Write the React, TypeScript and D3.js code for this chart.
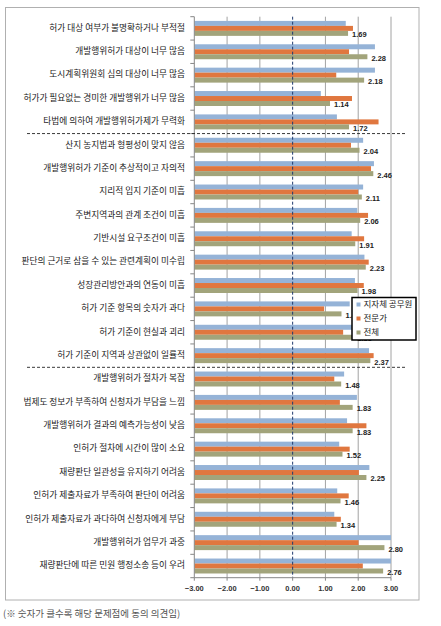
import React from "react";
import * as d3 from "d3";

const categories = [
  "허가 대상 여부가 불명확하거나 부적절",
  "개발행위허가 대상이 너무 많음",
  "도시계획위원회 심의 대상이 너무 많음",
  "허가가 필요없는 경미한 개발행위가 너무 많음",
  "타법에 의하여 개발행위허가제가 무력화",
  "산지 농지법과 형평성이 맞지 않음",
  "개발행위허가 기준이 추상적이고 자의적",
  "지리적 입지 기준이 미흡",
  "주변지역과의 관계 조건이 미흡",
  "기반시설 요구조건이 미흡",
  "판단의 근거로 삼을 수 있는 관련계획이 미수립",
  "성장관리방안과의 연동이 미흡",
  "허가 기준 항목의 숫자가 과다",
  "허가 기준이 현실과 괴리",
  "허가 기준이 지역과 상관없이 일률적",
  "개발행위허가 절차가 복잡",
  "법제도 정보가 부족하여 신청자가 부담을 느낌",
  "개발행위허가 결과의 예측가능성이 낮음",
  "인허가 절차에 시간이 많이 소요",
  "재량판단 일관성을 유지하기 어려움",
  "인허가 제출자료가 부족하여 판단이 어려움",
  "인허가 제출자료가 과다하여 신청자에게 부담",
  "개발행위허가 업무가 과중",
  "재량판단에 따른 민원 행정소송 등이 우려",
];

const officials = [1.62, 2.51, 2.51, 0.86, 1.35, 2.15, 2.48, 2.15, 1.97, 1.8, 2.19, 1.9, 1.74, 2.0, 2.33, 1.57, 1.96, 1.66, 1.42, 2.34, 1.36, 1.27, 3.1, 3.1];
const experts = [1.84, 1.72, 1.33, 1.81, 2.62, 1.78, 2.39, 2.0, 2.3, 2.18, 2.32, 2.17, 0.96, 1.54, 2.47, 1.27, 1.44, 2.25, 1.74, 2.02, 1.71, 1.47, 2.01, 2.14];
const total = [1.69, 2.28, 2.18, 1.14, 1.72, 2.04, 2.46, 2.11, 2.06, 1.91, 2.23, 1.98, 1.49, 1.85, 2.37, 1.48, 1.83, 1.83, 1.52, 2.25, 1.46, 1.34, 2.8, 2.76];

const seriesNames = ["지자체 공무원", "전문가", "전체"];
const seriesColors = ["#95B3D7", "#E0773F", "#A2A47B"];
const xTicks = [-3, -2, -1, 0, 1, 2, 3];
const separatorsAfter = [5, 15];
const note = "(※ 숫자가 클수록 해당 문제점에 동의 의견임)";

const KR = "'Noto Sans CJK KR', 'Noto Sans', sans-serif";
const NUM = "'Liberation Sans', Arial, sans-serif";

export default function App() {
  const left = 194.3, right = 391, top = 16.7, bottom = 577.7;
  const x = d3.scaleLinear().domain([-3, 3]).range([left, right]);
  const y = d3.scaleBand<string>().domain(categories).range([top, bottom]).paddingInner(0.36).paddingOuter(0.18);
  const sub = d3.scaleBand<number>().domain([0, 1, 2]).range([0, y.bandwidth()]);
  const step = y.step();
  const values = [officials, experts, total];

  return (
    <div style={{ position: "absolute", left: 0, top: 0 }}>
      <svg width={441} height={626} style={{ display: "block" }}>
        <defs>
          <clipPath id="plot">
            <rect x={left} y={top} width={right - left} height={bottom - top} />
          </clipPath>
        </defs>
        <rect x={0} y={0} width={441} height={626} fill="#fff" />
        <rect x={5.5} y={7.5} width={413.5} height={592.5} fill="none" stroke="#b0b0b0" strokeWidth={1} />

        {/* gridlines */}
        {xTicks.filter((t) => t !== 0 && t !== -3).map((t) => (
          <line key={"g" + t} x1={x(t)} x2={x(t)} y1={top} y2={bottom} stroke="#8c8c8c" strokeWidth={0.8} />
        ))}

        {/* bars */}
        <g clipPath="url(#plot)">
          {categories.map((c, i) =>
            values.map((vals, s) => (
              <rect
                key={c + s}
                x={x(-3)}
                y={(y(c) as number) + (sub(s) as number)}
                width={x(vals[i]) - x(-3)}
                height={sub.bandwidth()}
                fill={seriesColors[s]}
              />
            ))
          )}
        </g>

        {/* zero line */}
        <line x1={x(0)} x2={x(0)} y1={top} y2={bottom} stroke="#1F3A6E" strokeWidth={1} strokeDasharray="3,2" />

        {/* axes */}
        <line x1={left} x2={left} y1={top} y2={bottom} stroke="#868686" strokeWidth={1} />
        {d3.range(categories.length + 1).map((i) => (
          <line key={"yt" + i} x1={left - 4} x2={left} y1={top + i * step} y2={top + i * step} stroke="#868686" strokeWidth={1} />
        ))}
        <line x1={left} x2={right} y1={bottom} y2={bottom} stroke="#868686" strokeWidth={1} />
        {xTicks.map((t) => (
          <g key={"xt" + t}>
            <line x1={x(t)} x2={x(t)} y1={bottom} y2={bottom + 3} stroke="#868686" strokeWidth={1} />
            <text x={x(t)} y={bottom + 13} textAnchor="middle" fontFamily={NUM} fontWeight="bold" fontSize={7.5} fill="#333">
              {d3.format(".2f")(t)}
            </text>
          </g>
        ))}

        {/* separators */}
        {separatorsAfter.map((k) => (
          <line key={"sep" + k} x1={27} x2={407} y1={top + k * step} y2={top + k * step} stroke="#222" strokeWidth={0.9} strokeDasharray="3,2" />
        ))}

        {/* category labels */}
        {categories.map((c) => (
          <text key={"l" + c} x={185} y={(y(c) as number) + y.bandwidth() / 2} dominantBaseline="middle" textAnchor="end" fontFamily={KR} fontSize={8.7} fill="#1a1a1a">
            {c}
          </text>
        ))}

        {/* value labels */}
        {categories.map((c, i) => (
          <text
            key={"v" + c}
            x={x(total[i]) + 4}
            y={(y(c) as number) + (sub(2) as number) + sub.bandwidth() / 2 + 2}
            dominantBaseline="middle"
            fontFamily={NUM}
            fontWeight="bold"
            fontSize={7.5}
            fill="#222"
          >
            {d3.format(".2f")(total[i])}
          </text>
        ))}

        {/* legend */}
        <rect x={352} y={297.5} width={64} height={42.5} fill="#fff" stroke="#000" strokeWidth={1.5} />
        {seriesNames.map((n, s) => (
          <g key={"lg" + n}>
            <rect x={356.5} y={302.5 + s * 14} width={4} height={4} fill={seriesColors[s]} />
            <text x={363.5} y={304.5 + s * 14} dominantBaseline="middle" fontFamily={KR} fontSize={8.5} fill="#222">
              {n}
            </text>
          </g>
        ))}

        {/* note */}
        <text x={3} y={617} fontFamily={KR} fontSize={9.5} fill="#555">
          {note}
        </text>
      </svg>
    </div>
  );
}
